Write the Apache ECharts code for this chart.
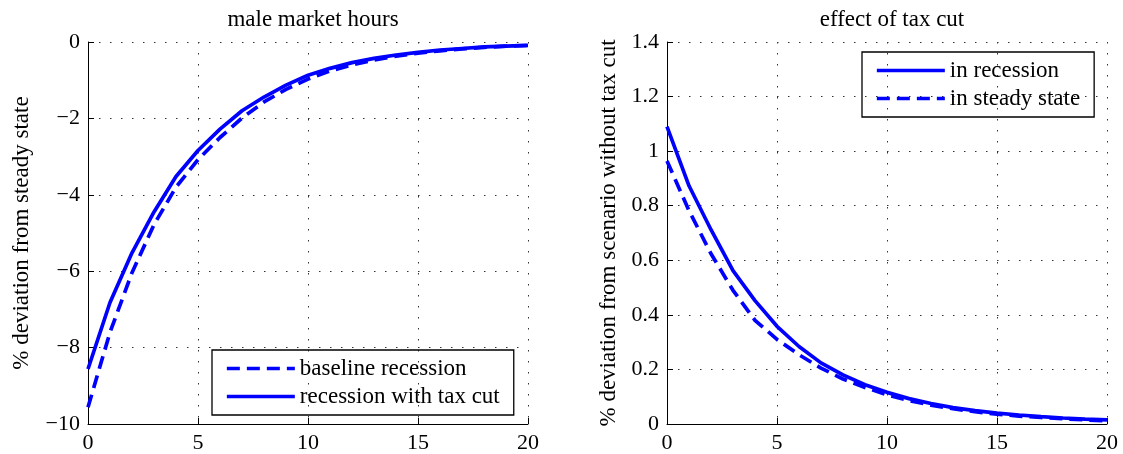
<!DOCTYPE html>
<html>
<head>
<meta charset="utf-8">
<script src="https://cdn.jsdelivr.net/npm/echarts@6/dist/echarts.min.js"></script>
<style>
html,body{margin:0;padding:0;background:#fff;}
#chart{width:1123px;height:454px;}
</style>
</head>
<body>
<div id="chart"></div>
<script>
// ---- data ----
const periods = [0,1,2,3,4,5,6,7,8,9,10,11,12,13,14,15,16,17,18,19,20];

const baselineRecession = [-9.56,-7.6,-6.04,-4.78,-3.8,-3.08,-2.5,-1.99,-1.57,-1.24,-0.97,-0.76,-0.6,-0.47,-0.37,-0.29,-0.23,-0.18,-0.14,-0.11,-0.09];
const recessionWithTaxCut = [-8.56,-6.82,-5.52,-4.45,-3.52,-2.84,-2.28,-1.8,-1.44,-1.13,-0.87,-0.69,-0.54,-0.43,-0.34,-0.27,-0.21,-0.17,-0.13,-0.11,-0.09];

const inRecession = [1.09,0.873,0.712,0.562,0.452,0.358,0.284,0.224,0.18,0.144,0.116,0.093,0.075,0.06,0.049,0.04,0.033,0.027,0.022,0.018,0.015];
const inSteadyState = [0.964,0.782,0.624,0.49,0.38,0.31,0.254,0.205,0.165,0.134,0.107,0.086,0.069,0.056,0.045,0.036,0.029,0.024,0.019,0.015,0.012];

const titles = ['male market hours', 'effect of tax cut'];
const yNames = ['% deviation from steady state', '% deviation from scenario without tax cut'];
const leftYTicks = {min: -10, max: 0, interval: 2};
const rightYTicks = {min: 0, max: 1.4, interval: 0.2};
const xTicks = {min: 0, max: 20, interval: 5};

// ---- chart ----
const FONT = 'Liberation Serif';
const BLUE = '#0000ff';
const LW = 3.7;
const DASH = [13, 7];
const pairs = (ys) => periods.map((x, i) => [x, ys[i]]);

const gridLine = {show: true, lineStyle: {color: '#333', width: 1, type: [1.5, 9.5]}};
function xAxis(gi) {
  return {
    type: 'value', gridIndex: gi, min: xTicks.min, max: xTicks.max, interval: xTicks.interval,
    axisLine: {show: true, onZero: false, lineStyle: {color: '#000', width: 1}},
    axisTick: {show: true, inside: true, length: 6, lineStyle: {color: '#000'}},
    axisLabel: {color: '#000', fontFamily: FONT, fontSize: 22, margin: 8},
    splitLine: gridLine
  };
}
function yAxis(gi, t, name, gap) {
  return {
    type: 'value', gridIndex: gi, min: t.min, max: t.max, interval: t.interval,
    name: name, nameLocation: 'middle', nameGap: gap, nameRotate: 90,
    nameTextStyle: {color: '#000', fontFamily: FONT, fontSize: 23},
    axisLine: {show: true, onZero: false, lineStyle: {color: '#000', width: 1}},
    axisTick: {show: true, inside: true, length: 6, lineStyle: {color: '#000'}},
    axisLabel: {color: '#000', fontFamily: FONT, fontSize: 22, margin: 8,
      formatter: (v) => String(+v.toFixed(2)).replace('-', '\u2212')},
    splitLine: gridLine
  };
}
function legendItem(name, dashed) {
  return {name: name, lineStyle: {color: BLUE, width: LW, type: dashed ? DASH : 'solid'},
          itemStyle: {color: 'rgba(0,0,0,0)', borderWidth: 0, opacity: 0}};
}
function legendCfg(left, top, items) {
  return {
    show: true, orient: 'vertical', left: left, top: top, data: items,
    borderColor: '#000', borderWidth: 1.3, borderRadius: 0,
    padding: [6.5, 14, 6.5, 13], itemGap: 4, itemWidth: 68, itemHeight: 14,
    itemStyle: {color: 'rgba(0,0,0,0)', borderWidth: 0, opacity: 0},
    textStyle: {color: '#000', fontFamily: FONT, fontSize: 23, lineHeight: 24},
    selectedMode: false
  };
}

const chart = echarts.init(document.getElementById('chart'), null, {renderer: 'canvas'});
chart.setOption({
  animation: false,
  backgroundColor: '#fff',
  title: [
    {text: titles[0], left: 308, top: 3, textAlign: 'center',
     textStyle: {fontFamily: FONT, fontSize: 23, fontWeight: 'normal', color: '#000'}},
    {text: titles[1], left: 887, top: 3, textAlign: 'center',
     textStyle: {fontFamily: FONT, fontSize: 23, fontWeight: 'normal', color: '#000'}}
  ],
  grid: [
    {left: 88, top: 42, width: 440, height: 383},
    {left: 667, top: 42, width: 440, height: 383}
  ],
  xAxis: [xAxis(0), xAxis(1)],
  yAxis: [yAxis(0, leftYTicks, yNames[0], 55), yAxis(1, rightYTicks, yNames[1], 47)],
  legend: [
    legendCfg(212, 350, [legendItem('baseline recession', true), legendItem('recession with tax cut', false)]),
    legendCfg(862, 52, [legendItem('in recession', false), legendItem('in steady state', true)])
  ],
  series: [
    {name: 'baseline recession', type: 'line', xAxisIndex: 0, yAxisIndex: 0, data: pairs(baselineRecession),
     symbol: 'none', lineStyle: {color: BLUE, width: LW, type: DASH}, itemStyle: {color: BLUE}},
    {name: 'recession with tax cut', type: 'line', xAxisIndex: 0, yAxisIndex: 0, data: pairs(recessionWithTaxCut),
     symbol: 'none', lineStyle: {color: BLUE, width: LW}, itemStyle: {color: BLUE}},
    {name: 'in recession', type: 'line', xAxisIndex: 1, yAxisIndex: 1, data: pairs(inRecession),
     symbol: 'none', lineStyle: {color: BLUE, width: LW}, itemStyle: {color: BLUE}},
    {name: 'in steady state', type: 'line', xAxisIndex: 1, yAxisIndex: 1, data: pairs(inSteadyState),
     symbol: 'none', lineStyle: {color: BLUE, width: LW, type: DASH}, itemStyle: {color: BLUE}}
  ]
});
</script>
</body>
</html>
